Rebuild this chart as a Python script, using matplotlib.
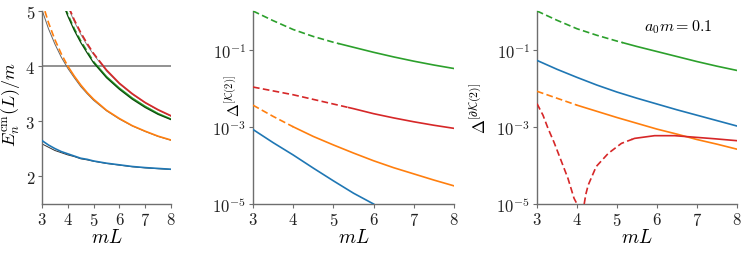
import numpy as np
import matplotlib
matplotlib.use("Agg")
import matplotlib.pyplot as plt

plt.rcParams.update({
    "font.family": "serif",
    "font.serif": ["cmr10"],
    "mathtext.fontset": "cm",
    "axes.formatter.use_mathtext": True,
    "font.size": 12,
})

C_BLUE, C_ORANGE, C_GREEN, C_RED = "#1f77b4", "#ff7f0e", "#2ca02c", "#d62728"

# ---------------- panel 1: energy levels E_n^cm(L)/m ----------------
L1 = [3.0, 3.25, 3.5, 3.75, 4.0, 4.25, 4.5, 4.75, 5.0, 5.5, 6.0, 6.5, 7.0, 7.5, 8.0]
E_blue = [2.65, 2.57, 2.505, 2.45, 2.41, 2.37, 2.33, 2.31, 2.28, 2.24, 2.21, 2.18, 2.16, 2.145, 2.13]
E_blue_ref = [2.59, 2.53, 2.47, 2.43, 2.39, 2.36, 2.32, 2.30, 2.275, 2.235, 2.205, 2.175, 2.155, 2.14, 2.127]
E_orange = [5.17, 4.79, 4.48, 4.22, 4.00, 3.82, 3.66, 3.52, 3.40, 3.20, 3.05, 2.92, 2.82, 2.73, 2.66]
E_orange_ref = [5.02, 4.68, 4.40, 4.16, 3.96, 3.79, 3.63, 3.50, 3.38, 3.19, 3.04, 2.915, 2.815, 2.725, 2.655]
E_green = [6.52, 6.01, 5.59, 5.24, 4.94, 4.68, 4.46, 4.27, 4.08, 3.81, 3.60, 3.42, 3.27, 3.14, 3.04]
E_green_ref = [6.49, 5.98, 5.56, 5.21, 4.91, 4.65, 4.43, 4.24, 4.06, 3.79, 3.58, 3.40, 3.25, 3.125, 3.03]
E_red = [6.79, 6.25, 5.80, 5.43, 5.11, 4.84, 4.61, 4.41, 4.23, 3.93, 3.69, 3.50, 3.34, 3.21, 3.10]
E_red_ref = [6.76, 6.22, 5.77, 5.40, 5.08, 4.81, 4.58, 4.38, 4.21, 3.91, 3.675, 3.487, 3.33, 3.20, 3.09]
E_threshold = 4.0

# ---------------- panel 2: log10 Delta^[K(2)] ----------------
L23 = [3.0, 3.5, 4.0, 4.5, 5.0, 5.5, 6.0, 6.5, 7.0, 7.5, 8.0]
K_green = [0.0, -0.25, -0.48, -0.66, -0.81, -0.94, -1.07, -1.19, -1.30, -1.40, -1.49]
K_red = [-1.97, -2.07, -2.17, -2.29, -2.41, -2.53, -2.66, -2.77, -2.87, -2.96, -3.04]
K_orange = [-2.44, -2.73, -3.00, -3.25, -3.47, -3.68, -3.88, -4.06, -4.22, -4.38, -4.53]
L_K_blue = [3.0, 3.5, 4.0, 4.5, 5.0, 5.5, 6.0]
K_blue = [-3.07, -3.41, -3.73, -4.07, -4.40, -4.72, -5.0]

# ---------------- panel 3: log10 Delta^[dK(2)] ----------------
dK_green = [0.0, -0.24, -0.46, -0.63, -0.78, -0.92, -1.05, -1.18, -1.31, -1.43, -1.54]
dK_blue = [-1.28, -1.51, -1.72, -1.92, -2.10, -2.26, -2.41, -2.56, -2.70, -2.84, -2.98]
dK_orange = [-2.08, -2.26, -2.44, -2.60, -2.76, -2.91, -3.06, -3.19, -3.33, -3.45, -3.58]
L_dK_red_a = [3.0, 3.15, 3.275, 3.425, 3.567, 3.775, 3.925, 4.0]
dK_red_a = [-2.40, -2.70, -3.04, -3.40, -3.78, -4.34, -4.85, -5.0]
L_dK_red_b = [4.18, 4.22, 4.28, 4.48, 4.78, 5.11, 5.44, 5.94, 6.44, 6.94, 7.44, 8.0]
dK_red_b = [-5.0, -4.75, -4.51, -4.03, -3.69, -3.43, -3.30, -3.23, -3.23, -3.27, -3.31, -3.36]

XTICKS = [3, 4, 5, 6, 7, 8]
SPINE = "#6e6e6e"
LW = 1.2


def crossing(L, E, level):
    L = np.asarray(L); E = np.asarray(E)
    return float(np.interp(level, E[::-1], L[::-1]))


def split_plot(ax, L, y, thr, color, lw=LW, log=False, z=3):
    L = np.asarray(L, float); y = np.asarray(y, float)
    f = (lambda v: 10 ** v) if log else (lambda v: v)
    dash = (0, (4, 2))
    if thr <= L[0]:
        ax.plot(L, f(y), color=color, lw=lw, zorder=z)
        return
    if thr >= L[-1]:
        ax.plot(L, f(y), color=color, lw=lw, ls=dash, zorder=z)
        return
    yt = np.interp(thr, L, y)
    m = L < thr
    xd = np.append(L[m], thr); yd = np.append(y[m], yt)
    xs = np.insert(L[~m], 0, thr); ys = np.insert(y[~m], 0, yt)
    ax.plot(xd, f(yd), color=color, lw=lw, ls=dash, zorder=z)
    ax.plot(xs, f(ys), color=color, lw=lw, zorder=z)


thr_orange = crossing(L1, E_orange, E_threshold)
thr_green = crossing(L1, E_green, E_threshold)
thr_red = crossing(L1, E_red, E_threshold)

fig = plt.figure(figsize=(7.48, 2.55), dpi=100)
ax1 = fig.add_axes([42 / 748, 1 - 205 / 255, 129 / 748, 193 / 255])
ax2 = fig.add_axes([253 / 748, 1 - 205 / 255, 201 / 748, 193 / 255])
ax3 = fig.add_axes([537 / 748, 1 - 205 / 255, 200 / 748, 193 / 255])

for ax in (ax1, ax2, ax3):
    for s in ("top", "right"):
        ax.spines[s].set_visible(False)
    for s in ("left", "bottom"):
        ax.spines[s].set_color(SPINE)
        ax.spines[s].set_linewidth(1.0)
    ax.tick_params(colors=SPINE, labelcolor="#222222", labelsize=12, length=3, width=0.8, pad=2)
    ax.set_xlim(3, 8)
    ax.set_xticks(XTICKS)
    ax.set_xlabel(r"$mL$", fontsize=14, labelpad=0)

# panel 1
ax1.axhline(E_threshold, color="#7f7f7f", lw=1.2, zorder=1)
ax1.plot(L1, E_blue_ref, color="#333333", lw=0.7, zorder=2)
ax1.plot(L1, E_orange_ref, color="#666666", lw=0.7, zorder=2)
ax1.plot(L1, E_red_ref, color="#777777", lw=0.6, zorder=2)
ax1.plot(L1, E_blue, color=C_BLUE, lw=LW, zorder=3)
split_plot(ax1, L1, E_orange, thr_orange, C_ORANGE)
split_plot(ax1, L1, E_green, thr_green, C_GREEN)
split_plot(ax1, L1, E_red, thr_red, C_RED)
ax1.plot(L1, E_green_ref, color="#0b4a0b", lw=0.9, zorder=4)
ax1.set_ylim(1.5, 5)
ax1.set_yticks([2, 3, 4, 5])
ax1.set_ylabel(r"$E_n^{\rm cm}(L)/m$", fontsize=13)
ax1.yaxis.set_label_coords(-0.155, 0.52)

# panel 2
split_plot(ax2, L23, K_green, thr_green, C_GREEN, log=True)
split_plot(ax2, L23, K_red, thr_red, C_RED, log=True)
split_plot(ax2, L23, K_orange, thr_orange, C_ORANGE, log=True)
split_plot(ax2, L_K_blue, K_blue, 0, C_BLUE, log=True)
ax2.set_yscale("log")
ax2.set_ylim(1e-5, 1)
ax2.set_yticks([1e-5, 1e-3, 1e-1])
ax2.yaxis.set_minor_locator(matplotlib.ticker.NullLocator())
ax2.set_ylabel(r"$\Delta^{[\mathcal{K}(2)]}$", fontsize=11)
ax2.yaxis.set_label_coords(-0.05, 0.565)

# panel 3
split_plot(ax3, L23, dK_green, thr_green, C_GREEN, log=True)
split_plot(ax3, L23, dK_blue, 0, C_BLUE, log=True)
split_plot(ax3, L23, dK_orange, thr_orange, C_ORANGE, log=True)
split_plot(ax3, L_dK_red_a, dK_red_a, thr_red, C_RED, log=True)
split_plot(ax3, L_dK_red_b, dK_red_b, thr_red, C_RED, log=True)
ax3.set_yscale("log")
ax3.set_ylim(1e-5, 1)
ax3.set_yticks([1e-5, 1e-3, 1e-1])
ax3.yaxis.set_minor_locator(matplotlib.ticker.NullLocator())
ax3.set_ylabel(r"$\Delta^{[\partial\mathcal{K}(2)]}$", fontsize=12)
ax3.yaxis.set_label_coords(-0.24, 0.5)
ax3.text(0.875, 0.92, r"$a_0 m = 0.1$", transform=ax3.transAxes, ha="right", va="center", fontsize=11.5)

fig.savefig("out.png", dpi=100)
